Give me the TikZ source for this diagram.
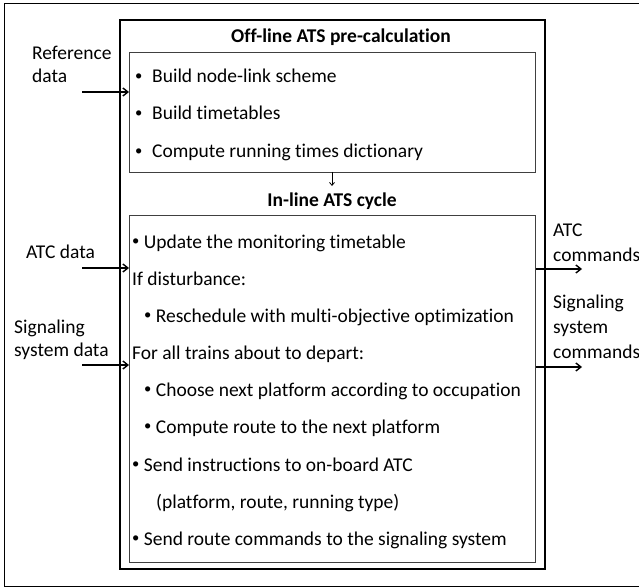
\documentclass[tikz,border=0pt]{standalone}
\usepackage{fontspec}
\setmainfont{Carlito}[Ligatures=NoCommon]
\usetikzlibrary{arrows.meta}
\newcommand{\bul}{\raisebox{0.12em}{\scalebox{0.75}{•}}}
\begin{document}
\begin{tikzpicture}[x=1pt,y=-1pt,
  txt/.style={anchor=base west,inner sep=0pt,font=\fontsize{19.5}{23}\selectfont},
  ttl/.style={anchor=base,inner sep=0pt,font=\fontsize{19.5}{23}\selectfont\bfseries},
  flow/.style={line width=1.4pt,-{Straight Barb[length=5pt,width=8pt]}},
  inbox/.style={draw=black!75,line width=0.8pt},
]
\useasboundingbox (0,0) rectangle (639,588);
\coordinate (f1) at (645,3.5);
\coordinate (f2) at (4.5,3.5);
\coordinate (f3) at (4.5,586.5);
\coordinate (f4) at (645,586.5);
\draw[line width=1.3pt] (f1) -- (f2) -- (f3) -- (f4);
\draw[line width=2pt] (120,20) rectangle (545,569);
\node[inbox,minimum width=406pt,minimum height=120pt,anchor=north west,inner sep=0pt] (top) at (129,52) {};
\node[inbox,minimum width=406pt,minimum height=347pt,anchor=north west,inner sep=0pt] (bot) at (129,215) {};
\node[ttl] (t1) at (341,43) {Off-line ATS pre-calculation};
\node[txt] (b1) at (135,83) {\bul};
\node[txt] (l1) at (152,83) {Build node-link scheme};
\node[txt] (b2) at (135,120) {\bul};
\node[txt] (l2) at (152,120) {Build timetables};
\node[txt] (b3) at (135,158) {\bul};
\node[txt] (l3) at (152,158) {Compute running times dictionary};
\coordinate (a1) at (332,172);
\coordinate (a2) at (332,186);
\draw[line width=0.8pt,-{Straight Barb[length=3pt,width=5pt]}] (a1) -- (a2);
\node[ttl] (t2) at (332,206) {In-line ATS cycle};
\node[txt] (m1) at (132,248) {\bul{} Update the monitoring timetable};
\node[txt] (m2) at (132,285) {If disturbance:};
\node[txt] (m3) at (144,322) {\bul{} Reschedule with multi-objective optimization};
\node[txt] (m4) at (132,359) {For all trains about to depart:};
\node[txt] (m5) at (144,396) {\bul{} Choose next platform according to occupation};
\node[txt] (m6) at (144,433) {\bul{} Compute route to the next platform};
\node[txt] (m7) at (132,471) {\bul{} Send instructions to on-board ATC};
\node[txt] (m8) at (156,508) {(platform, route, running type)};
\node[txt] (m9) at (132,545) {\bul{} Send route commands to the signaling system};
% left inputs
\node[txt] (r1) at (32,60) {Reference};
\node[txt] (r2) at (32,83) {data};
\node[txt] (c1) at (26,258) {ATC data};
\node[txt] (s1) at (14,333) {Signaling};
\node[txt] (s2) at (14,356) {system data};
\coordinate (ir) at (82,92);
\coordinate (ic) at (82,268);
\coordinate (is) at (82,365);
\draw[flow] (ir) -- (ir -| top.west);
\draw[flow] (ic) -- (ic -| bot.west);
\draw[flow] (is) -- (is -| bot.west);
% right outputs
\node[txt] (o1) at (553,236) {ATC};
\node[txt] (o2) at (553,261) {commands};
\node[txt] (o3) at (553,308) {Signaling};
\node[txt] (o4) at (553,333) {system};
\node[txt] (o5) at (553,358) {commands};
\coordinate (oa) at (582,269);
\coordinate (ob) at (582,367);
\draw[flow] (oa -| bot.east) -- (oa);
\draw[flow] (ob -| bot.east) -- (ob);
\end{tikzpicture}
\end{document}
